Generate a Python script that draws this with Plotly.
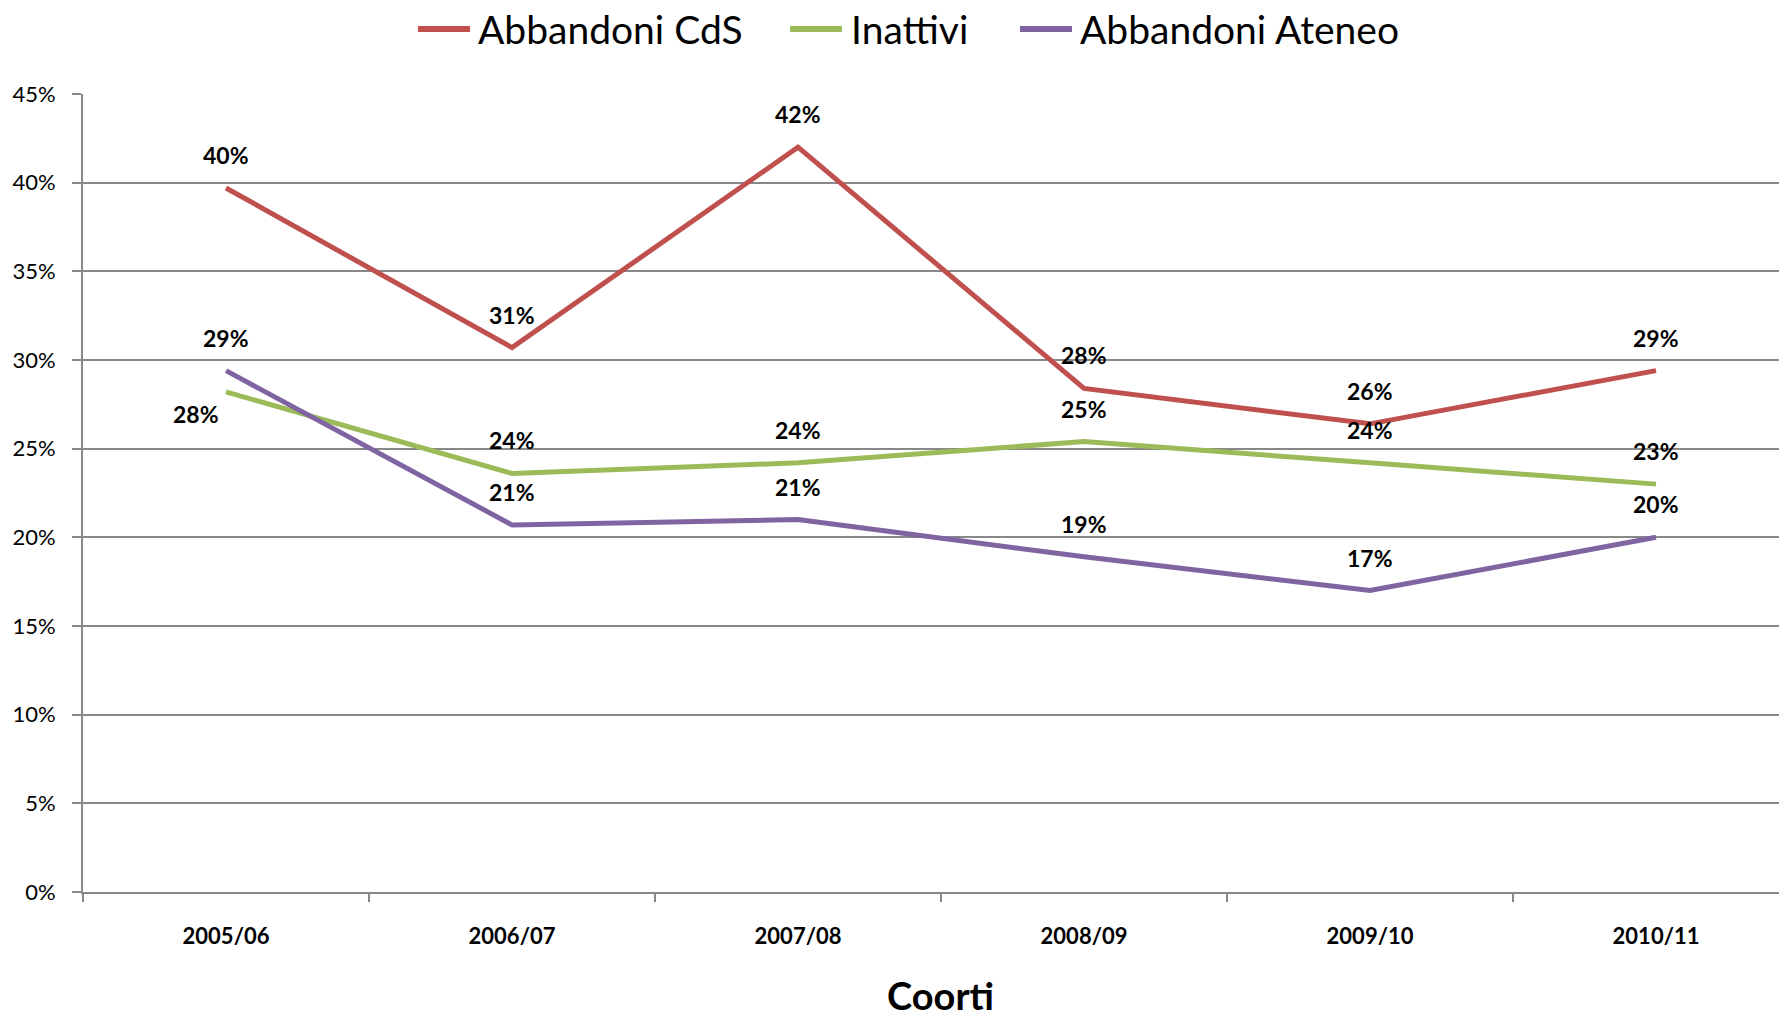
import plotly.graph_objects as go

categories = ["2005/06", "2006/07", "2007/08", "2008/09", "2009/10", "2010/11"]
abbandoni_cds = [39.7, 30.7, 42.0, 28.4, 26.4, 29.4]
inattivi = [28.2, 23.6, 24.2, 25.4, 24.2, 23.0]
abbandoni_ateneo = [29.4, 20.7, 21.0, 18.9, 17.0, 20.0]
y_ticks = [0, 5, 10, 15, 20, 25, 30, 35, 40, 45]
y_tick_labels = [f"{t}%" for t in y_ticks]

series = [
    ("Abbandoni CdS", abbandoni_cds, "#C0504D"),
    ("Inattivi", inattivi, "#9BBB59"),
    ("Abbandoni Ateneo", abbandoni_ateneo, "#8064A2"),
]

FONT = "Lato, 'Open Sans', sans-serif"
OFF = 8  # page body margin
W, H = 1787 - OFF, 1013 - OFF
L, T = 83 - OFF, 94 - OFF
B = 121
PW, PH = W - L, H - T - B


def px_x(px):
    return (px - OFF - L) / PW


def px_y(py):
    return (H - B - (py - OFF)) / PH


fig = go.Figure()
for name, vals, color in series:
    fig.add_trace(go.Scatter(
        x=categories, y=vals, mode="lines", name=name,
        line=dict(color=color, width=5), showlegend=False,
    ))

annotations = []
shapes = []
# data labels
for name, vals, color in series:
    for i, (c, v) in enumerate(zip(categories, vals)):
        xs, ys = 0, 33
        if name == "Inattivi" and i == 0:
            xs, ys = -30, -22
        annotations.append(dict(
            x=c, y=v, xref="x", yref="y", text=f"{round(v)}%",
            showarrow=False, xshift=xs, yshift=ys, yanchor="middle",
            font=dict(family=FONT, size=23, color="#000000", weight="bold"),
        ))

# manual legend (sample line start px, text start px)
legend_pos = [(418, 476), (790, 849), (1020, 1078)]
leg_y = 29
for (name, vals, color), (sx, tx) in zip(series, legend_pos):
    shapes.append(dict(
        type="line", xref="paper", yref="paper",
        x0=px_x(sx), x1=px_x(sx + 52), y0=px_y(leg_y), y1=px_y(leg_y),
        line=dict(color=color, width=6),
    ))
    annotations.append(dict(
        x=px_x(tx), y=px_y(leg_y), xref="paper", yref="paper", text=name,
        showarrow=False, xanchor="left", yanchor="middle",
        font=dict(family=FONT, size=39, color="#000000"),
    ))

annotations.append(dict(
    x=px_x(940), y=px_y(995), xref="paper", yref="paper", text="<b>Coorti</b>",
    showarrow=False, xanchor="center", yanchor="middle",
    font=dict(family=FONT, size=38, color="#000000"),
))
annotations.append(dict(
    x=px_x(1740), y=px_y(1004), xref="paper", yref="paper", text="14",
    showarrow=False, xanchor="center", yanchor="top",
    font=dict(family=FONT, size=28, color="#8c8c8c"),
))

fig.update_layout(
    width=W, height=H,
    margin=dict(l=L, r=0, t=T, b=B, autoexpand=False),
    paper_bgcolor="white", plot_bgcolor="white",
    font=dict(family=FONT, color="#000000"),
    showlegend=False,
    annotations=annotations,
    shapes=shapes,
    xaxis=dict(
        type="category", range=[-0.5, 5.458],
        tickson="boundaries", ticks="outside", ticklen=8, tickwidth=2,
        tickcolor="#888888", showline=True, linecolor="#888888", linewidth=2,
        showgrid=False, zeroline=False,
        tickfont=dict(family=FONT, size=22, color="#000000", weight="bold"),
        ticklabelstandoff=24,
    ),
    yaxis=dict(
        range=[0, 45], tickvals=y_ticks, ticktext=y_tick_labels,
        ticks="outside", ticklen=9, tickwidth=2, tickcolor="#888888",
        showline=True, linecolor="#888888", linewidth=2,
        showgrid=True, gridcolor="#888888", gridwidth=2, zeroline=False,
        tickfont=dict(family=FONT, size=22, color="#000000"),
        ticklabelstandoff=12,
    ),
)

fig.write_html("out.html")
